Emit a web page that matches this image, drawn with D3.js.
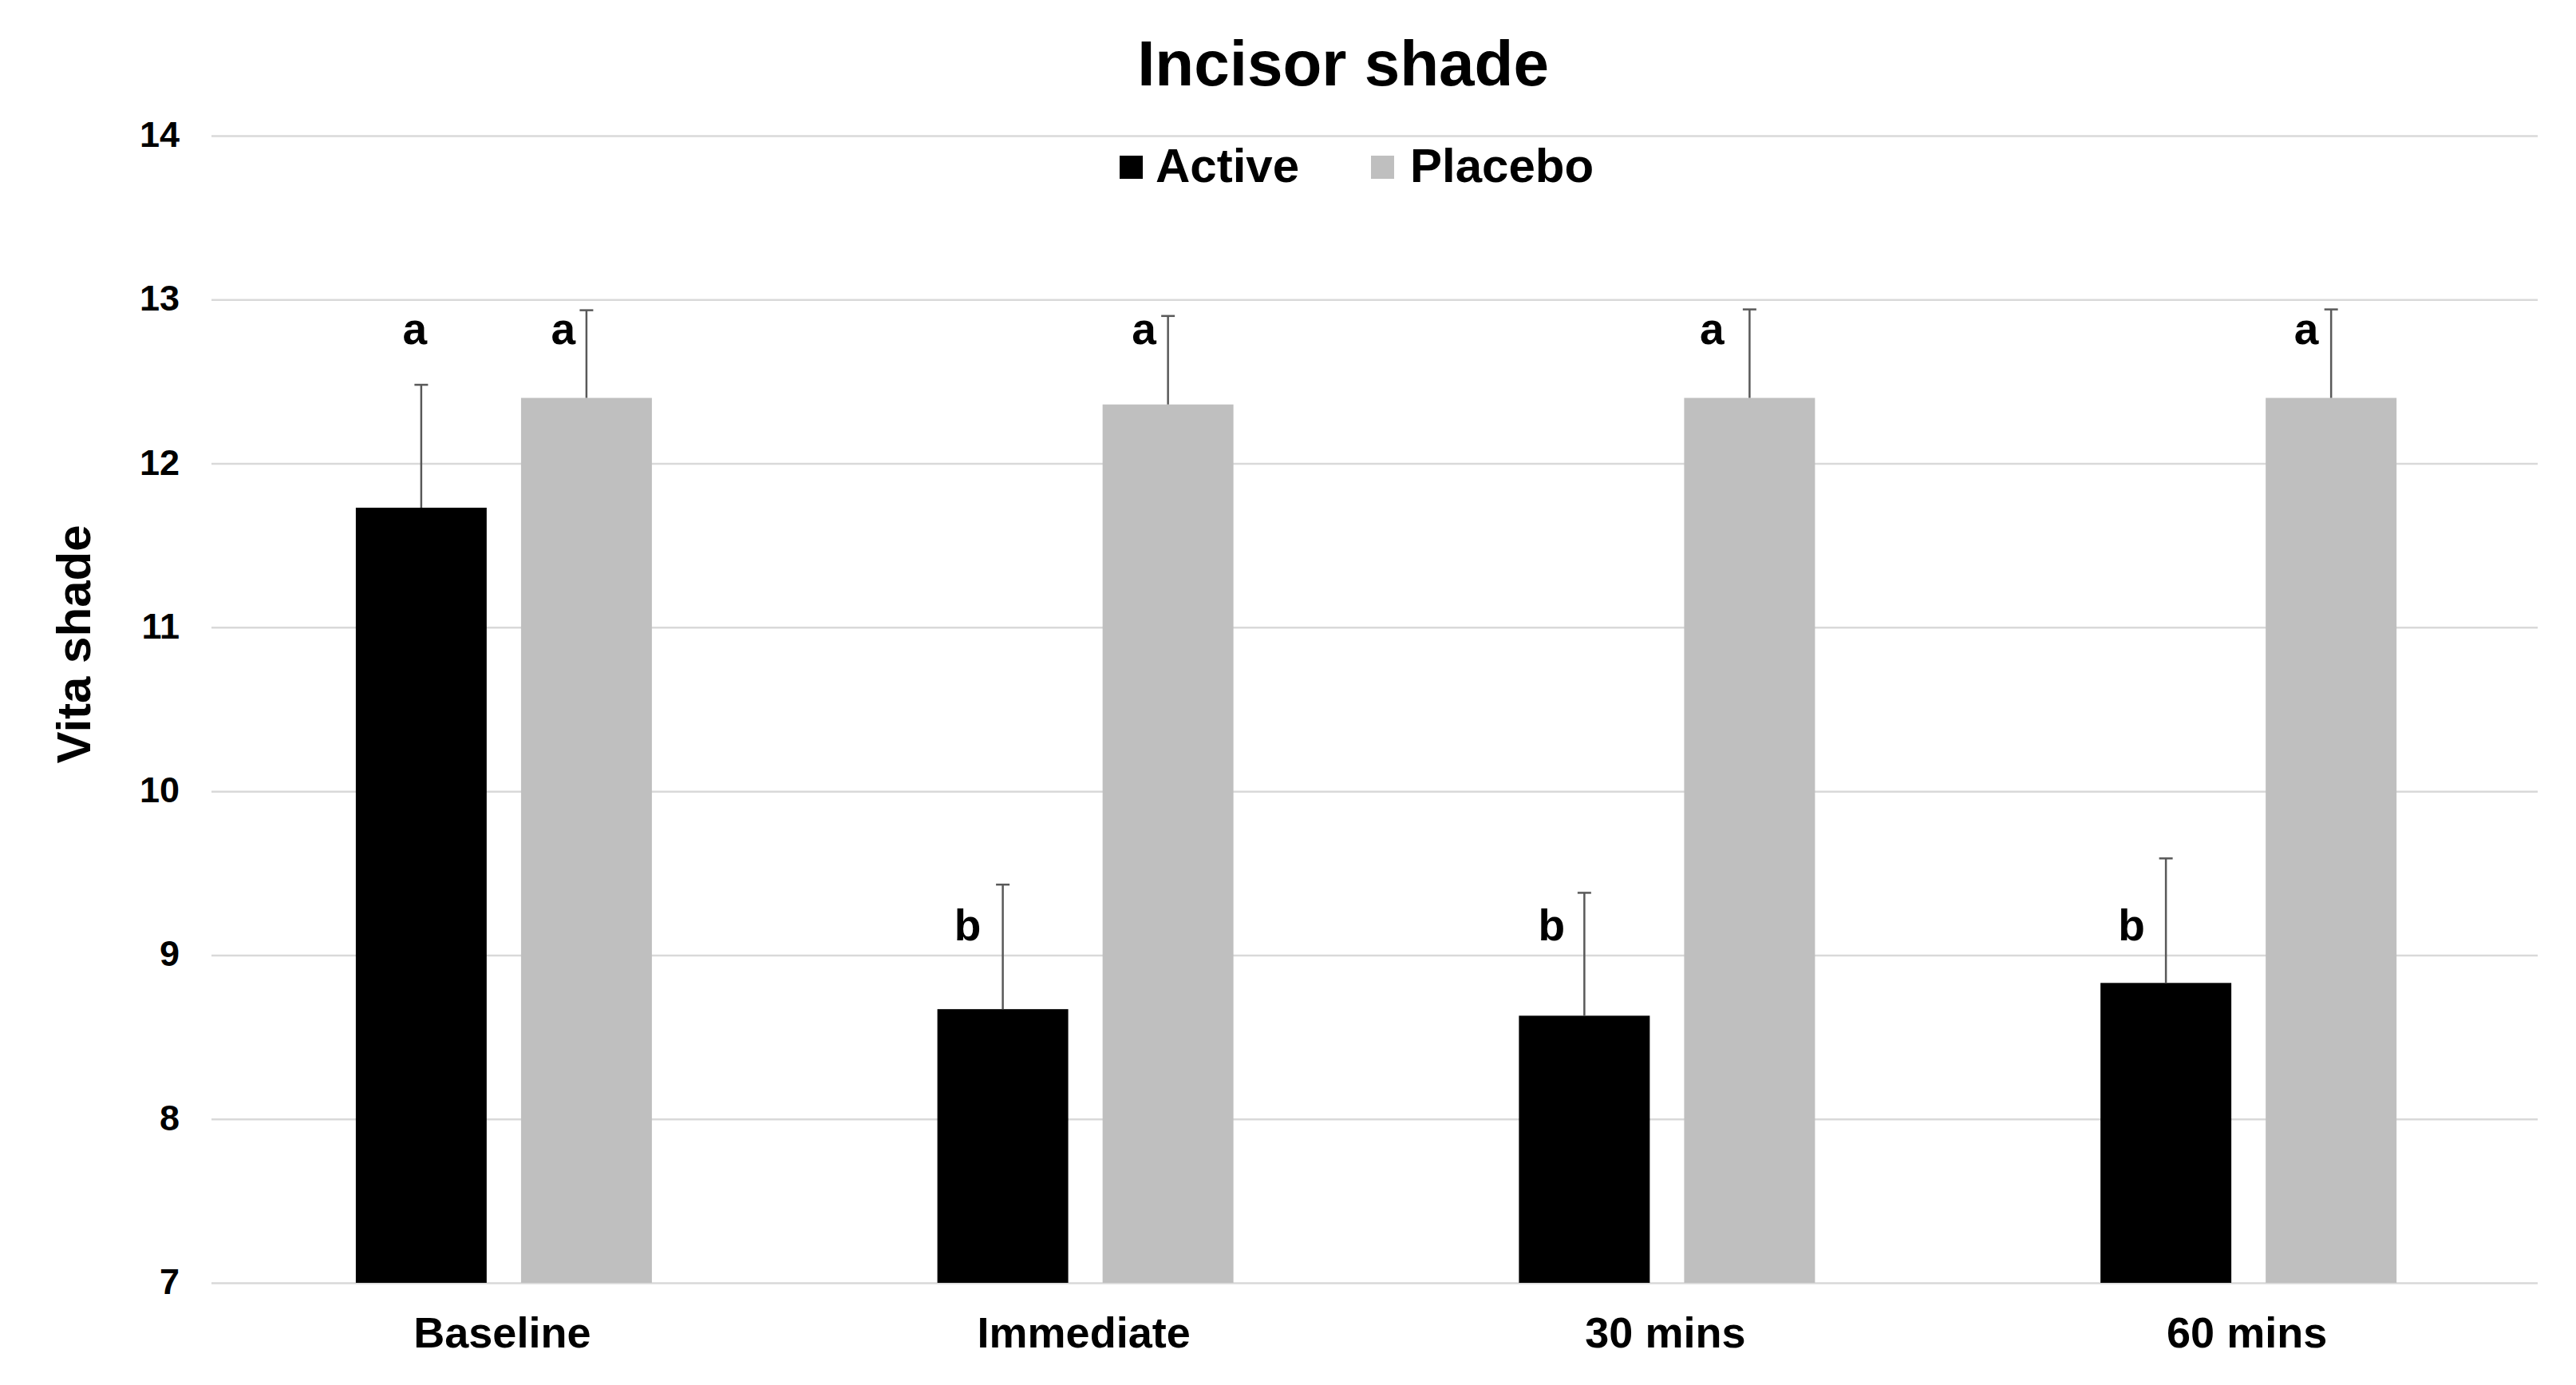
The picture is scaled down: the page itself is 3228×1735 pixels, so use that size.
<!DOCTYPE html>
<html>
<head>
<meta charset="utf-8">
<script src="https://cdn.jsdelivr.net/npm/d3@7"></script>
<style>
  html, body { margin: 0; padding: 0; background: #ffffff; }
  svg { display: block; }
  text { font-family: "Liberation Sans", Arial, Helvetica, sans-serif; font-weight: bold; fill: #000; }
</style>
</head>
<body>
<script>
// ---- data ----
const categories = ["Baseline", "Immediate", "30 mins", "60 mins"];
const seriesNames = ["Active", "Placebo"];
const activeMeans = [11.73, 8.67, 8.63, 8.83];
const activeSD = [0.75, 0.76, 0.75, 0.76];
const placeboMeans = [12.40, 12.36, 12.40, 12.40];
const placeboSD = [0.535, 0.54, 0.54, 0.54];
const activeLetters = ["a", "b", "b", "b"];
const placeboLetters = ["a", "a", "a", "a"];
const yTicks = [7, 8, 9, 10, 11, 12, 13, 14];

// ---- layout ----
const W = 3228, H = 1735;
const plotLeft = 265, plotRight = 3180, plotTop = 170, plotBottom = 1607;
const colors = { Active: "#000000", Placebo: "#bfbfbf" };

const svg = d3.select("body").append("svg").attr("width", W).attr("height", H);
svg.append("rect").attr("width", W).attr("height", H).attr("fill", "#fff");

const y = d3.scaleLinear().domain([7, 14]).range([plotBottom, plotTop]);
const x0 = d3.scaleBand().domain(categories).range([plotLeft, plotRight]).padding(0);
const groupW = 371;
const x1 = d3.scaleBand().domain(seriesNames).range([0, groupW]).paddingInner(0.208).paddingOuter(0);
const groupStart = c => x0(c) + x0.bandwidth() / 2 - groupW / 2 + 2;

// gridlines + y axis
const yAxis = d3.axisLeft(y).tickValues(yTicks).tickFormat(d3.format("d"))
  .tickSizeInner(-(plotRight - plotLeft)).tickSizeOuter(0).tickPadding(40);
const gy = svg.append("g").attr("transform", `translate(${plotLeft},0)`).call(yAxis);
gy.select(".domain").remove();
gy.selectAll(".tick line").attr("stroke", "#d9d9d9").attr("stroke-width", 2.5);
gy.selectAll(".tick text").attr("font-size", 45).attr("dy", "0.3em")
  .style("font-family", "'Liberation Sans', Arial, sans-serif").style("font-weight", "bold");

// x axis
const xAxis = d3.axisBottom(x0).tickSize(0).tickPadding(43);
const gx = svg.append("g").attr("transform", `translate(0,${plotBottom})`).call(xAxis);
gx.select(".domain").remove();
gx.selectAll(".tick text").attr("font-size", 54)
  .style("font-family", "'Liberation Sans', Arial, sans-serif").style("font-weight", "bold");

// build rows
const rows = categories.map((c, i) => ({
  cat: c,
  values: [
    { s: "Active", m: activeMeans[i], sd: activeSD[i], letter: activeLetters[i] },
    { s: "Placebo", m: placeboMeans[i], sd: placeboSD[i], letter: placeboLetters[i] }
  ]
}));

const groups = svg.append("g").selectAll("g").data(rows).join("g")
  .attr("transform", d => `translate(${groupStart(d.cat)},0)`);

groups.selectAll("rect").data(d => d.values).join("rect")
  .attr("x", d => x1(d.s))
  .attr("width", x1.bandwidth())
  .attr("y", d => y(d.m))
  .attr("height", d => y(7) - y(d.m))
  .attr("fill", d => colors[d.s]);

// error bars (plus direction)
const errG = groups.selectAll("g.err").data(d => d.values).join("g").attr("class", "err");
const capHalf = 8.5;
errG.append("line")
  .attr("x1", d => x1(d.s) + x1.bandwidth() / 2)
  .attr("x2", d => x1(d.s) + x1.bandwidth() / 2)
  .attr("y1", d => y(d.m))
  .attr("y2", d => y(d.m + d.sd))
  .attr("stroke", "#595959").attr("stroke-width", 2.5);
errG.append("line")
  .attr("x1", d => x1(d.s) + x1.bandwidth() / 2 - capHalf)
  .attr("x2", d => x1(d.s) + x1.bandwidth() / 2 + capHalf)
  .attr("y1", d => y(d.m + d.sd))
  .attr("y2", d => y(d.m + d.sd))
  .attr("stroke", "#595959").attr("stroke-width", 2.5);

// significance letters (text boxes)
const letterRowY = { a: 431, b: 1178 };
const letterDx = {
  Active: [-8, -44, -41, -43],
  Placebo: [-29, -30, -47, -31]
};
rows.forEach((r, i) => {
  r.values.forEach(v => {
    svg.append("text")
      .attr("x", groupStart(r.cat) + x1(v.s) + x1.bandwidth() / 2 + letterDx[v.s][i])
      .attr("y", letterRowY[v.letter])
      .attr("text-anchor", "middle")
      .attr("font-size", 55)
      .text(v.letter);
  });
});

// title
svg.append("text").attr("x", 1683).attr("y", 107).attr("text-anchor", "middle")
  .attr("font-size", 80).text("Incisor shade");

// y axis title
svg.append("text").attr("transform", "translate(113,807) rotate(-90)")
  .attr("text-anchor", "middle").attr("font-size", 60).text("Vita shade");

// legend
const legendItems = [
  { name: "Active", sx: 1403, tx: 1448 },
  { name: "Placebo", sx: 1718, tx: 1767 }
];
const lg = svg.append("g");
legendItems.forEach(it => {
  lg.append("rect").attr("x", it.sx).attr("y", 195).attr("width", 29).attr("height", 29)
    .attr("fill", colors[it.name]);
  lg.append("text").attr("x", it.tx).attr("y", 228).attr("font-size", 60).text(it.name);
});
</script>
</body>
</html>
